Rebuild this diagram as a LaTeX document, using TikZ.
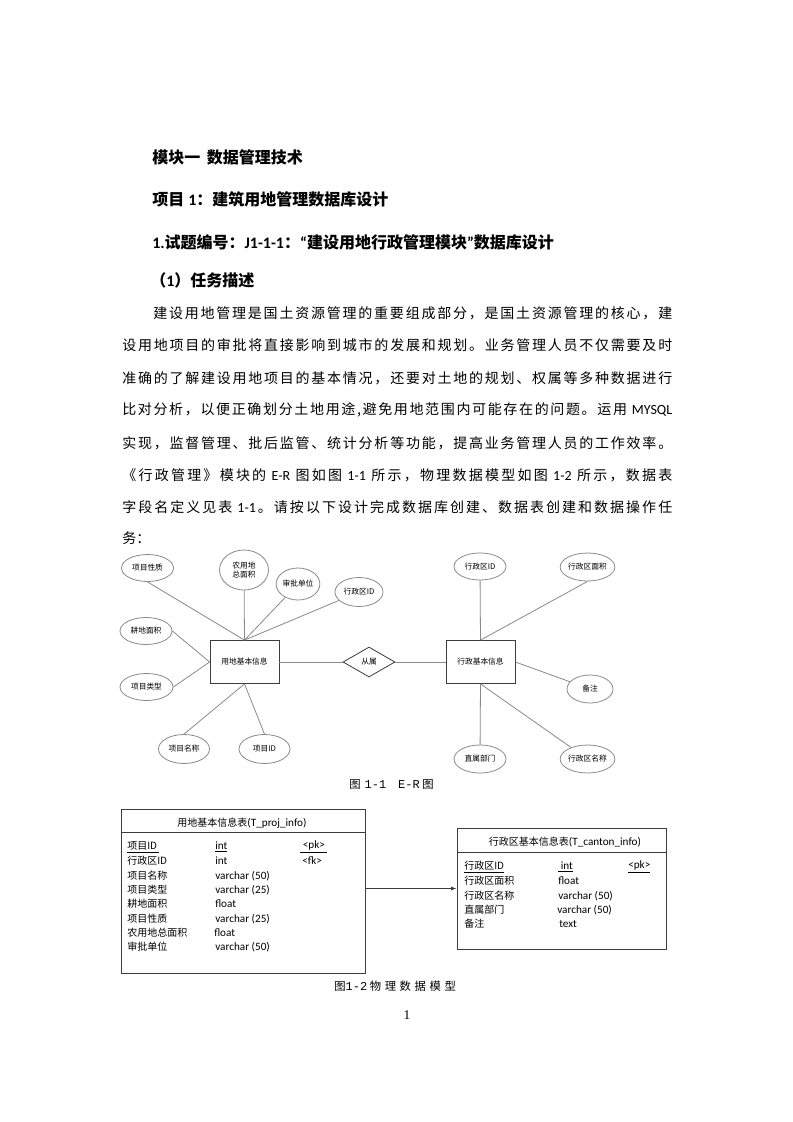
\documentclass[tikz,border=0pt]{standalone}
\usepackage{fontspec}
\setmainfont{Noto Sans CJK SC}
\newfontfamily\lat{Carlito}
\newfontfamily\mono{Liberation Mono}
\newfontfamily\rmser{Liberation Serif}
\usetikzlibrary{shapes.geometric,arrows.meta,calc}
\newdimen\px \px=0.75pt
\definecolor{lngray}{HTML}{8A8A8A}
\definecolor{boxgray}{HTML}{3C3C3C}
\newcommand\la[1]{{\lat #1}}
\newcommand\lc[1]{{\lat\fontsize{8.4pt}{9pt}\selectfont #1}}
\makeatletter
\def\jl@glue{\hskip 0pt plus 1fil\relax}
\newcommand\jline[2]{\makebox[#1][s]{\let\jl@sep\relax\@tfor\jl@t:=#2\do{\jl@sep\jl@t\let\jl@sep\jl@glue}}}
\makeatother
\begin{document}
\begin{tikzpicture}[x=0.75pt,y=-0.75pt,
 hd/.style={anchor=west,inner sep=0,font=\fontsize{12pt}{14pt}\selectfont\bfseries},
 pl/.style={anchor=west,inner sep=0,font=\fontsize{10.5pt}{12pt}\selectfont},
 attr/.style={ellipse,draw=lngray,line width=0.6pt,inner sep=0,font=\fontsize{5.8pt}{7pt}\selectfont,align=center},
 ent/.style={rectangle,draw=boxgray,line width=0.6pt,inner sep=0,minimum width=69\px,minimum height=43\px,font=\fontsize{5.8pt}{7pt}\selectfont},
 rel/.style={diamond,draw=boxgray,line width=0.6pt,inner sep=0,minimum width=52\px,minimum height=30\px,font=\fontsize{5.8pt}{7pt}\selectfont},
 link/.style={draw=lngray,line width=0.6pt},
 tbl/.style={rectangle,draw=boxgray,line width=0.7pt,inner sep=0},
 cell/.style={anchor=west,inner sep=0,font=\fontsize{7.5pt}{9pt}\selectfont},
 ttl/.style={inner sep=0,font=\fontsize{7.5pt}{9pt}\selectfont},
 capt/.style={anchor=west,inner sep=0,font=\fontsize{8.5pt}{10pt}\selectfont}]
\fill[white] (0,0) rectangle (793,1122);
\useasboundingbox (0,0) rectangle (793,1122);

% headings
\node[hd] (h1) at (152,157) {模块一\hspace{5pt}数据管理技术};
\node[hd] (h2) at (152,199) {项目\hspace{3pt}\la{1}：建筑用地管理数据库设计};
\node[hd] (h3) at (152,242) {\la{1.}试题编号：\la{J1-1-1}：\la{“}建设用地行政管理模块\la{”}数据库设计};
\node[hd] (h4) at (150,280) {（\la{1}）任务描述};

% paragraph
\node[pl] (p1) at (153,313) {\jline{519\px}{建设用地管理是国土资源管理的重要组成部分，是国土资源管理的核心，建}};
\node[pl] (p2) at (122,345) {\jline{550\px}{设用地项目的审批将直接影响到城市的发展和规划。业务管理人员不仅需要及时}};
\node[pl] (p3) at (122,378) {\jline{550\px}{准确的了解建设用地项目的基本情况，还要对土地的规划、权属等多种数据进行}};
\node[pl] (p4) at (122,410) {\jline{550\px}{比对分析，以便正确划分土地用途,避免用地范围内可能存在的问题。运用{\ \la{MYSQL}}}};
\node[pl] (p5) at (122,443) {\jline{550\px}{实现，监督管理、批后监管、统计分析等功能，提高业务管理人员的工作效率。}};
\node[pl] (p6) at (122,475) {\jline{550\px}{《行政管理》模块的{\ \la{E-R}\ }图如图{\ \la{1-1}\ }所示，物理数据模型如图{\ \la{1-2}\ }所示，数据表}};
\node[pl] (p7) at (122,507) {\jline{550\px}{字段名定义见表{\ \la{1-1}}。请按以下设计完成数据库创建、数据表创建和数据操作任}};
\node[pl] (p8) at (122,538) {务：};

% E-R diagram
\node[ent] (u) at (244.5,662) {用地基本信息};
\node[rel] (r) at (369,662) {从属};
\node[ent] (x) at (480.5,662) {行政基本信息};

\node[attr,minimum width=52\px,minimum height=27\px] (a1) at (147.5,568) {项目性质};
\node[attr,minimum width=49\px,minimum height=40\px] (a2) at (244,570) {农用地\\总面积};
\node[attr,minimum width=42\px,minimum height=32\px] (a3) at (298,584) {审批单位};
\node[attr,minimum width=48\px,minimum height=29\px] (a4) at (359,592) {行政区ID};
\node[attr,minimum width=52\px,minimum height=27\px] (a5) at (146,631) {耕地面积};
\node[attr,minimum width=53\px,minimum height=27\px] (a6) at (146.5,687) {项目类型};
\node[attr,minimum width=51\px,minimum height=29\px] (a7) at (184,749) {项目名称};
\node[attr,minimum width=51\px,minimum height=29\px] (a8) at (264.5,749) {项目ID};

\node[attr,minimum width=52\px,minimum height=27\px] (b1) at (480,566.5) {行政区ID};
\node[attr,minimum width=51\px,minimum height=28\px] (b2) at (587.5,567) {行政区面积};
\node[attr,minimum width=46\px,minimum height=28\px] (b3) at (590,689) {备注};
\node[attr,minimum width=52\px,minimum height=28\px] (b4) at (480,759) {直属部门};
\node[attr,minimum width=51\px,minimum height=28\px] (b5) at (587.5,759) {行政区名称};

\draw[link] (a1.south) -- (u.north);
\draw[link] (a2) -- (u.north);
\draw[link] (a3) -- (u.north);
\draw[link] (a4) -- (u.north);
\draw[link] (a5.east) -- (u.west);
\draw[link] (a6.east) -- (u.west);
\draw[link] (a7.north) -- (u.south);
\draw[link] (a8.north) -- (u.south);
\draw[link] (u.east) -- (r.west);
\draw[link] (r.east) -- (x.west);
\draw[link] (b1) -- (x.north);
\draw[link] (b2.south) -- (x.north);
\draw[link] (b3) -- (x.east);
\draw[link] (b4) -- (x.south);
\draw[link] (b5) -- (x.south);

\node[capt] (c1) at (349,784) {图\hspace{3pt}{\mono\fontsize{9pt}{10pt}\selectfont 1-1}\hspace{9pt}{\mono\fontsize{9pt}{10pt}\selectfont E-R}\hspace{2pt}图};

% physical model
\node[tbl,minimum width=244\px,minimum height=164\px] (lt) at (243,891) {};
\draw[boxgray,line width=0.7pt] ($(lt.north west)+(0,24)$) -- ($(lt.north east)+(0,24)$);
\node[ttl] (lttl) at (242,823) {用地基本信息表\lc{(T\_proj\_info)}};

\node[cell] (l1n) at (127,847) {\underline{项目ID\ }};
\node[cell] (l2n) at (127,861) {行政区ID};
\node[cell] (l3n) at (127,876) {项目名称};
\node[cell] (l4n) at (127,890) {项目类型};
\node[cell] (l5n) at (127,904) {耕地面积};
\node[cell] (l6n) at (127,919) {项目性质};
\node[cell] (l7n) at (127,933) {农用地总面积};
\node[cell] (l8n) at (127,947) {审批单位};
\node[cell] (l1t) at (215,847) {\underline{\lc{int}}};
\node[cell] (l2t) at (215,861) {\lc{int}};
\node[cell] (l3t) at (215,876) {\lc{varchar (50)}};
\node[cell] (l4t) at (215,890) {\lc{varchar (25)}};
\node[cell] (l5t) at (215,904) {\lc{float}};
\node[cell] (l6t) at (215,919) {\lc{varchar (25)}};
\node[cell] (l7t) at (214,933) {\lc{float}};
\node[cell] (l8t) at (215,947) {\lc{varchar (50)}};
\node[cell] (l1k) at (300,847) {\underline{\lc{\ <pk>\ }}};
\node[cell] (l2k) at (302,861) {\lc{<fk>}};

\node[tbl,minimum width=209\px,minimum height=121\px] (rt) at (561.5,888.5) {};
\draw[boxgray,line width=0.7pt] ($(rt.north west)+(0,25)$) -- ($(rt.north east)+(0,25)$);
\node[ttl] (rttl) at (565,842) {行政区基本信息表\lc{(T\_canton\_info)}};

\node[cell] (r1n) at (464,867) {\underline{行政区ID}};
\node[cell] (r2n) at (464,881) {行政区面积};
\node[cell] (r3n) at (464,896) {行政区名称};
\node[cell] (r4n) at (464,910) {直属部门};
\node[cell] (r5n) at (464,924) {备注};
\node[cell] (r1t) at (558,867) {\underline{\lc{\ int}}};
\node[cell] (r2t) at (558,881) {\lc{float}};
\node[cell] (r3t) at (558,896) {\lc{varchar (50)}};
\node[cell] (r4t) at (557,910) {\lc{varchar (50)}};
\node[cell] (r5t) at (559,924) {\lc{text}};
\node[cell] (r1k) at (628,867) {\underline{\lc{<pk>}}};

\draw[boxgray,line width=0.6pt,-{Latex[length=4pt,width=3pt]}] (lt.east |- rt.west) -- (rt.west);

\node[capt] (c2) at (334,986) {图{\mono\fontsize{9pt}{10pt}\selectfont 1-2}\hspace{2pt}\jline{86\px}{物理数据模型}};

\node[inner sep=0,font=\rmser\fontsize{10pt}{12pt}\selectfont] (pg) at (407,1015) {1};
\end{tikzpicture}
\end{document}
